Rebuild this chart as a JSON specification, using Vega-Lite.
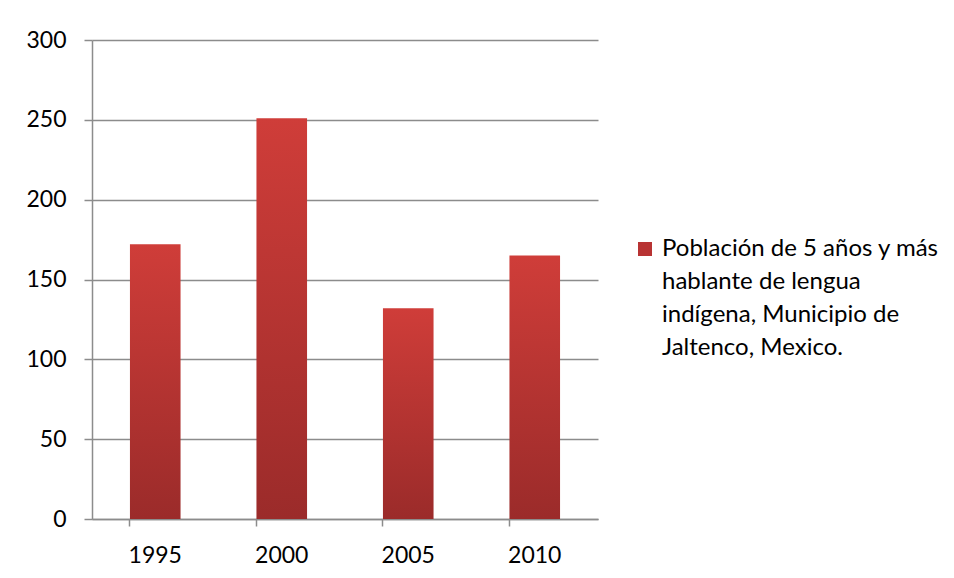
{
  "$schema": "https://vega.github.io/schema/vega-lite/v6.json",
  "autosize": "none",
  "width": 506,
  "height": 479,
  "padding": {"left": 92, "top": 40, "right": 356, "bottom": 59},
  "background": "white",
  "data": {"values": [
    {"year": "1995", "value": 172, "series": "Población de 5 años y más hablante de lengua indígena, Municipio de Jaltenco, Mexico."},
    {"year": "2000", "value": 251, "series": "Población de 5 años y más hablante de lengua indígena, Municipio de Jaltenco, Mexico."},
    {"year": "2005", "value": 132, "series": "Población de 5 años y más hablante de lengua indígena, Municipio de Jaltenco, Mexico."},
    {"year": "2010", "value": 165, "series": "Población de 5 años y más hablante de lengua indígena, Municipio de Jaltenco, Mexico."}
  ]},
  "mark": {
    "type": "bar",
    "fill": {"gradient": "linear", "x1": 0, "y1": 0, "x2": 0, "y2": 1, "stops": [
      {"offset": 0, "color": "#cf3d39"},
      {"offset": 1, "color": "#9b2b2a"}
    ]}
  },
  "encoding": {
    "x": {
      "field": "year", "type": "nominal",
      "scale": {"paddingInner": 0.6, "paddingOuter": 0.3},
      "axis": {
        "title": null, "labelAngle": 0, "bandPosition": 0,
        "domainColor": "#8c8c8c", "domainWidth": 1.5,
        "tickColor": "#8c8c8c", "tickWidth": 1.5, "tickSize": 7,
        "labelFont": "Lato", "labelFontSize": 23, "labelColor": "#000000",
        "labelPadding": 18, "labelBaseline": "top"
      }
    },
    "y": {
      "field": "value", "type": "quantitative",
      "scale": {"domain": [0, 300], "nice": false},
      "axis": {
        "title": null, "values": [0, 50, 100, 150, 200, 250, 300],
        "grid": true, "gridColor": "#8c8c8c", "gridWidth": 1.5,
        "domainColor": "#8c8c8c", "domainWidth": 1.5,
        "tickColor": "#8c8c8c", "tickWidth": 1.5, "tickSize": 8,
        "labelFont": "Lato", "labelFontSize": 23, "labelColor": "#000000",
        "labelPadding": 18
      }
    },
    "color": {
      "field": "series", "type": "nominal",
      "scale": {"range": ["#b83333"]},
      "legend": {
        "title": null, "orient": "none", "legendX": 541, "legendY": 197,
        "symbolType": "square", "symbolSize": 196, "symbolStrokeWidth": 0,
        "symbolFillColor": "#b83333",
        "labelFont": "Lato", "labelFontSize": 24, "labelColor": "#000000",
        "labelLimit": 400, "labelOffset": 5, "padding": 0,
        "labelExpr": "['Población de 5 años y más', 'hablante de lengua', 'indígena, Municipio de', 'Jaltenco, Mexico.']",
        "encoding": {"labels": {"lineHeight": {"value": 33}}}
      }
    }
  },
  "config": {"view": {"stroke": null}}
}
